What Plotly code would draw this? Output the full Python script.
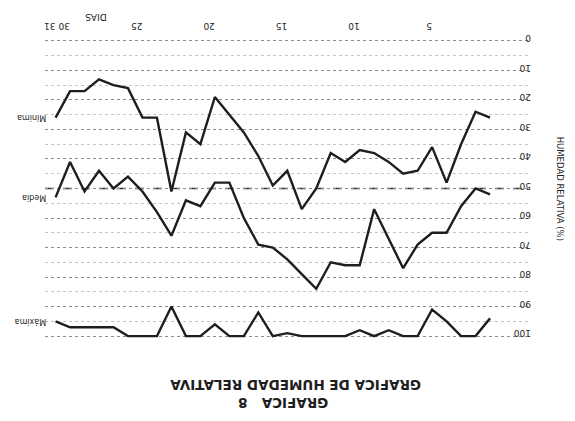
import plotly.graph_objects as go

# Daily relative humidity (%) for one month
days = list(range(1, 32))
rh_min = [26, 24, 35, 48, 36, 44, 45, 41, 38, 37, 41, 38, 50, 57, 44, 49,
          39, 31, 25, 19, 35, 31, 51, 26, 26, 16, 15, 13, 17, 17, 26]
rh_mean = [52, 50, 56, 65, 65, 69, 77, 67, 57, 76, 76, 75, 84, 79, 74, 70,
           69, 60, 48, 48, 56, 54, 66, 58, 51, 46, 50, 44, 51, 41, 53]
rh_max = [94, 100, 100, 95, 91, 100, 100, 98, 100, 98, 100, 100, 100, 100, 99, 100,
          92, 100, 100, 96, 100, 100, 90, 100, 100, 100, 97, 97, 97, 97, 95]

series = [("Mínima", rh_min), ("Media", rh_mean), ("Máxima", rh_max)]
day_ticks = [31, 30, 25, 20, 15, 10, 5]
rh_ticks = list(range(0, 101, 10))

ink = "#1e1e1e"
font_main = "DejaVu Sans"

fig = go.Figure()
for name, vals in series:
    fig.add_trace(go.Scatter(
        x=days, y=vals, mode="lines", name=name,
        line=dict(color=ink, width=2.4), showlegend=False,
    ))
    # series name next to the first plotted day (page is turned upside down)
    fig.add_annotation(
        x=days[-1], y=vals[-1], xref="x", yref="y",
        text=name, showarrow=False, textangle=180,
        xanchor="right", yanchor="middle", xshift=-7,
        font=dict(family=font_main, size=8, color=ink),
    )

# emphasised 50 % reference line
fig.add_shape(type="line", xref="paper", yref="y", x0=0, x1=1, y0=50, y1=50,
              line=dict(color="#333333", width=1.4, dash="dash"), layer="below")

fig.update_xaxes(
    side="top", range=[31.73, -1.76], tickmode="array", tickvals=day_ticks,
    ticktext=[str(d) for d in day_ticks], tickangle=180,
    showgrid=False, zeroline=False, showline=False, ticks="",
    tickfont=dict(family=font_main, size=9, color=ink),
)
fig.update_yaxes(
    side="right", range=[102, -2], tickmode="array", tickvals=rh_ticks,
    ticktext=[str(v) for v in rh_ticks], tickangle=180,
    showgrid=True, gridcolor="#8c8c8c", griddash="dot", gridwidth=1,
    minor=dict(dtick=5, showgrid=True, gridcolor="#c4c4c4", griddash="dot", gridwidth=1),
    zeroline=False, showline=False, ticks="",
    tickfont=dict(family=font_main, size=9, color=ink),
)

# axis titles and captions, all turned upside down with the page
fig.add_annotation(x=0.078, y=1.081, xref="paper", yref="paper", text="DIAS",
                   showarrow=False, textangle=180,
                   font=dict(family=font_main, size=9, color=ink))
fig.add_annotation(x=1.078, y=0.5, xref="paper", yref="paper",
                   text="HUMEDAD RELATIVA (%)", showarrow=False, textangle=90,
                   font=dict(family=font_main, size=8.5, color=ink))
fig.add_annotation(x=0.5165, y=-0.140, xref="paper", yref="paper",
                   text="<b>GRAFICA DE HUMEDAD RELATIVA</b>", showarrow=False, textangle=180,
                   xanchor="center", yanchor="middle",
                   font=dict(family=font_main, size=13.5, color=ink))
fig.add_annotation(x=0.492, y=-0.199, xref="paper", yref="paper",
                   text="<b>GRAFICA   8</b>", showarrow=False, textangle=180,
                   xanchor="center", yanchor="middle",
                   font=dict(family=font_main, size=13.5, color=ink))

fig.update_layout(
    width=575, height=421,
    margin=dict(l=45, r=45, t=35, b=79),
    paper_bgcolor="white", plot_bgcolor="white",
)

fig.write_html("out.html")
